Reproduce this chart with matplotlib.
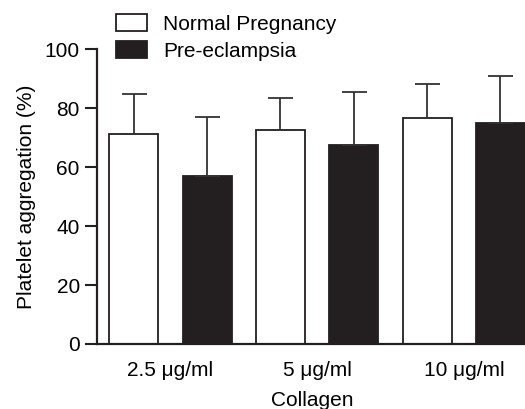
import matplotlib

matplotlib.use("Agg")
import matplotlib.pyplot as plt
import numpy as np

plt.rcParams["font.family"] = ["Liberation Sans", "DejaVu Sans"]

groups = ["2.5 \u03bcg/ml", "5 \u03bcg/ml", "10 \u03bcg/ml"]
normal_mean = [71.2, 72.5, 76.6]
normal_err = [13.7, 10.9, 11.6]
pe_mean = [57.1, 67.4, 75.0]
pe_err = [19.9, 18.0, 16.0]

fig = plt.figure(figsize=(5.25, 4.09), dpi=100)
ax = fig.add_axes([0.185, 0.159, 0.82, 0.72])

idx = np.arange(len(groups))
x_normal = idx * 2
x_pe = idx * 2 + 1
width = 0.665
dark = "#231f20"

ax.bar(x_normal, normal_mean, width, color="white", edgecolor=dark, linewidth=1.3,
       yerr=[np.zeros(3), normal_err], capsize=9,
       error_kw=dict(ecolor="#333333", elinewidth=1.3, capthick=1.3),
       label="Normal Pregnancy", zorder=2)
ax.bar(x_pe, pe_mean, width, color=dark, edgecolor=dark, linewidth=1.3,
       yerr=[np.zeros(3), pe_err], capsize=9,
       error_kw=dict(ecolor="#333333", elinewidth=1.3, capthick=1.3),
       label="Pre-eclampsia", zorder=2)

fs = 15
ax.set_xlim(-0.5, 5.37)
ax.set_ylim(0, 100)
ax.set_yticks([0, 20, 40, 60, 80, 100])
ax.set_xticks(idx * 2 + 0.5)
ax.set_xticklabels(groups)
ax.tick_params(axis="x", length=0, labelsize=fs, pad=12)
ax.tick_params(axis="y", length=9, width=1.5, labelsize=fs, color=dark)
for s in ["top", "right"]:
    ax.spines[s].set_visible(False)
for s in ["left", "bottom"]:
    ax.spines[s].set_linewidth(1.6)
    ax.spines[s].set_color(dark)

ax.set_ylabel("Platelet aggregation (%)", fontsize=fs, labelpad=6)
ax.set_xlabel("Collagen", fontsize=fs, labelpad=8)

ax.legend(loc="upper left", bbox_to_anchor=(0.02, 1.155), frameon=False,
          fontsize=fs, handlelength=1.5, handleheight=0.85,
          handletextpad=0.75, labelspacing=0.35, borderpad=0)

fig.savefig("out.png", dpi=100)
